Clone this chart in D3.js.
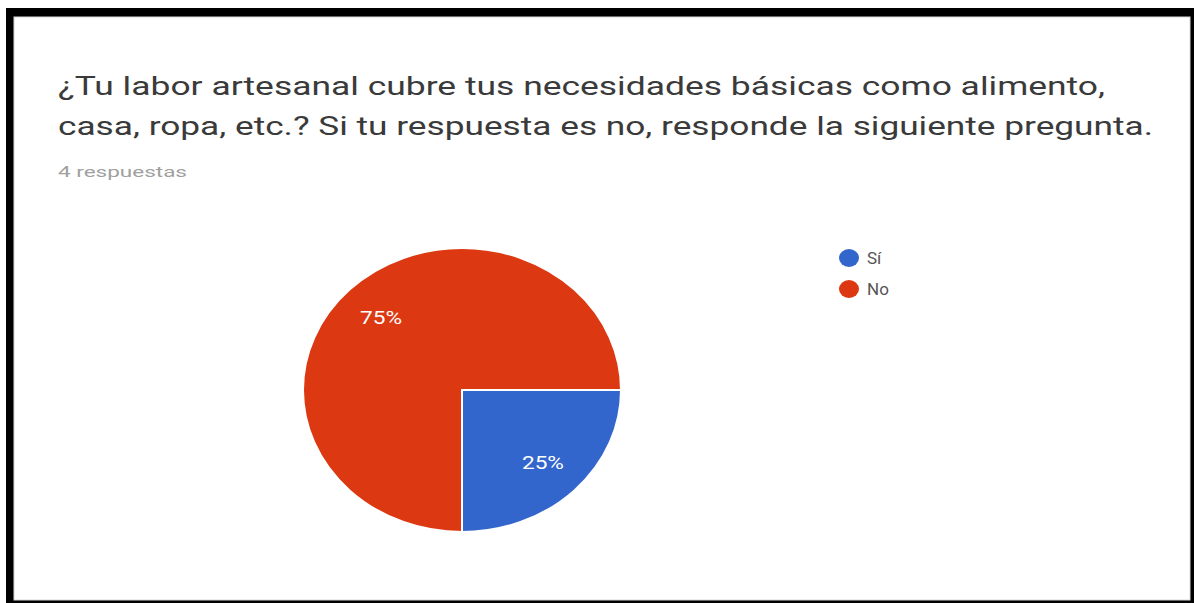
<!DOCTYPE html>
<html>
<head>
<meta charset="utf-8">
<script src="https://cdn.jsdelivr.net/npm/d3@7"></script>
<style>
  body { margin: 0; background: #fff; }
  svg { display: block; }
</style>
</head>
<body>
<div id="chart"></div>
<script>
var width = 1194,
    height = 603;

// data
var categories = ["Sí", "No"];
var values = [1, 3];
var colors = ["#3366cc", "#dc3912"];
var titleLines = [
  "¿Tu labor artesanal cubre tus necesidades básicas como alimento,",
  "casa, ropa, etc.? Si tu respuesta es no, responde la siguiente pregunta."
];
var subtitle = "4 respuestas";

var total = d3.sum(values);

var svg = d3.select("#chart")
    .append("svg")
    .attr("width", width)
    .attr("height", height);

// black frame round the screenshot
svg.append("rect")
    .attr("x", 6).attr("y", 8)
    .attr("width", width - 6).attr("height", height - 8)
    .attr("fill", "#000");
svg.append("rect")
    .attr("x", 14).attr("y", 17)
    .attr("width", 1176).attr("height", 583)
    .attr("fill", "#fff")
    .attr("stroke", "#d8d8d8")
    .attr("stroke-width", 1);

// title
var titleLen = [1047, 1095];
svg.selectAll(".title")
    .data(titleLines)
    .enter().append("text")
    .attr("class", "title")
    .attr("x", 58)
    .attr("y", function(d, i) { return 95 + i * 40; })
    .attr("textLength", function(d, i) { return titleLen[i]; })
    .attr("lengthAdjust", "spacingAndGlyphs")
    .attr("fill", "#3a3a3a")
    .style("font-family", "Roboto, Arial, sans-serif")
    .style("font-size", "26px")
    .text(function(d) { return d; });

svg.append("text")
    .attr("x", 58)
    .attr("y", 177)
    .attr("textLength", 129)
    .attr("lengthAdjust", "spacingAndGlyphs")
    .attr("fill", "#a0a0a0")
    .style("font-family", "Roboto, Arial, sans-serif")
    .style("font-size", "15px")
    .text(subtitle);

// pie (the screenshot is stretched a bit wider than tall)
var cx = 462, cy = 390, r = 142, sx = 159 / 142;

var pie = d3.pie()
    .sort(null)
    .startAngle(Math.PI / 2)
    .endAngle(Math.PI / 2 + 2 * Math.PI);

var arcs = pie(values);

var arc = d3.arc().innerRadius(0).outerRadius(r);
var labelArc = d3.arc().innerRadius(r * 0.72).outerRadius(r * 0.72);

var pieG = svg.append("g")
    .attr("transform", "translate(" + cx + "," + cy + ") scale(" + sx + ",1)");

pieG.selectAll("path")
    .data(arcs)
    .enter().append("path")
    .attr("d", arc)
    .attr("fill", function(d, i) { return colors[i]; })
    .attr("stroke", "#fff")
    .attr("stroke-width", 2)
    .attr("vector-effect", "non-scaling-stroke");

svg.selectAll(".plabel")
    .data(arcs)
    .enter().append("text")
    .attr("class", "plabel")
    .attr("x", function(d) { return cx + labelArc.centroid(d)[0] * sx; })
    .attr("y", function(d) { return cy + labelArc.centroid(d)[1]; })
    .attr("text-anchor", "middle")
    .attr("dominant-baseline", "central")
    .attr("textLength", 42)
    .attr("lengthAdjust", "spacingAndGlyphs")
    .attr("fill", "#fff")
    .style("font-family", "Roboto, Arial, sans-serif")
    .style("font-size", "19px")
    .text(function(d) { return Math.round(d.value / total * 100) + "%"; });

// legend
var leg = svg.selectAll(".leg")
    .data(categories)
    .enter().append("g")
    .attr("class", "leg")
    .attr("transform", function(d, i) { return "translate(849," + (258 + i * 31) + ")"; });

leg.append("ellipse")
    .attr("rx", 10)
    .attr("ry", 9)
    .attr("fill", function(d, i) { return colors[i]; });

leg.append("text")
    .attr("x", 18)
    .attr("dominant-baseline", "central")
    .attr("fill", "#555")
    .style("font-family", "Roboto, Arial, sans-serif")
    .style("font-size", "17px")
    .text(function(d) { return d; });
</script>
</body>
</html>
